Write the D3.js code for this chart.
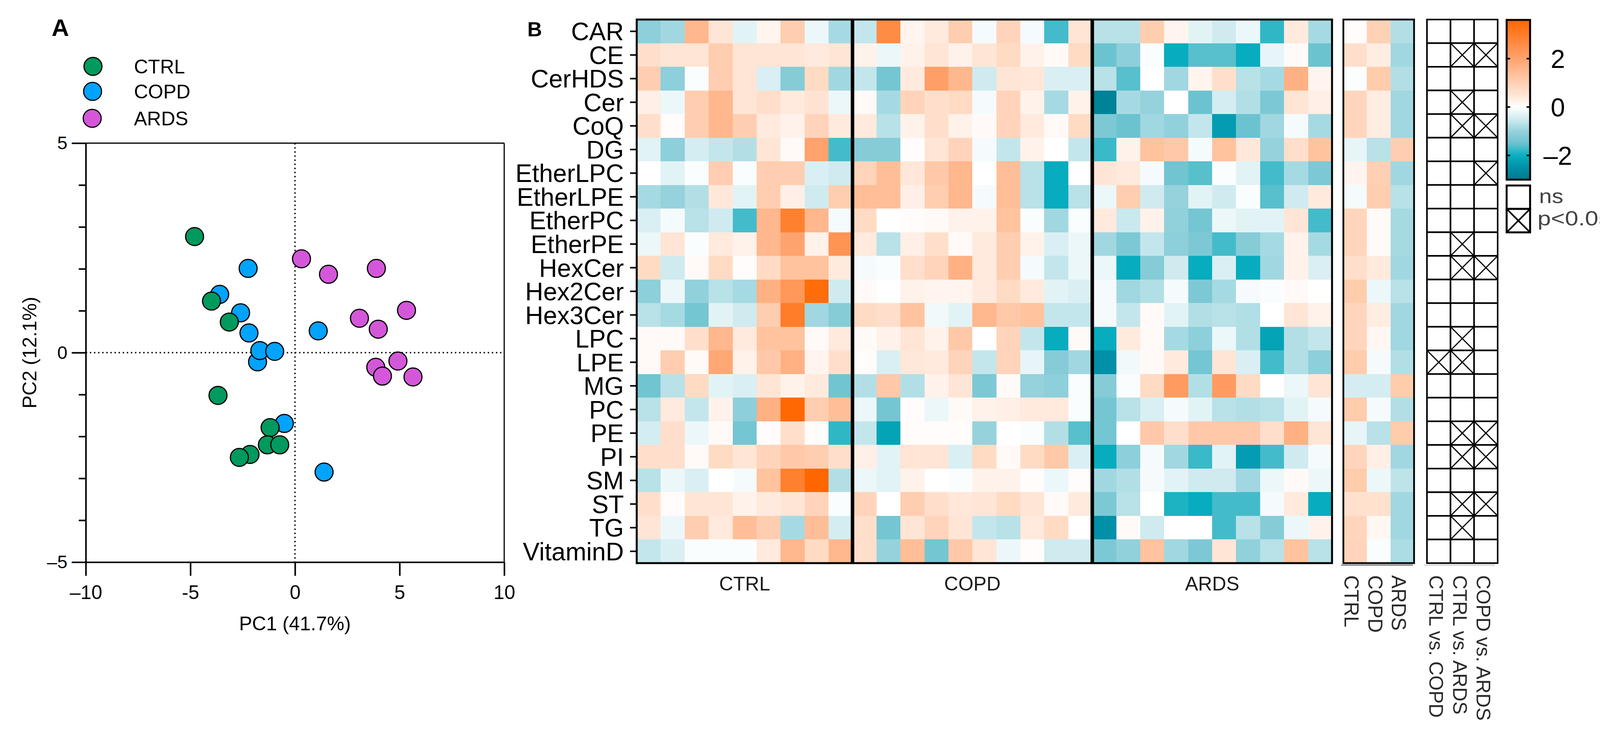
<!DOCTYPE html>
<html>
<head>
<meta charset="utf-8">
<script src="https://cdn.jsdelivr.net/npm/d3@7"></script>
<style>
  body { margin: 0; background: #fff; overflow: hidden; }
  svg { display: block; }
  text { font-family: "Liberation Sans", Arial, sans-serif; }
</style>
</head>
<body>
<svg id="fig" width="4175" height="1877"></svg>
<script>
// ---- data ----
const lipids = ['CAR', 'CE', 'CerHDS', 'Cer', 'CoQ', 'DG', 'EtherLPC', 'EtherLPE', 'EtherPC', 'EtherPE',
  'HexCer', 'Hex2Cer', 'Hex3Cer', 'LPC', 'LPE', 'MG', 'PC', 'PE', 'PI', 'SM', 'ST', 'TG', 'VitaminD'];
const groups = ['CTRL', 'COPD', 'ARDS'];
const comparisons = ['CTRL vs. COPD', 'CTRL vs. ARDS', 'COPD vs. ARDS'];

// z-scores per sample (rows = lipids)
const ctrlZ = [
  [-1.1, -0.9, 1.55, 0.5, -0.3, 0.2, 1.05, -0.2, -0.85],
  [0.65, 0.5, 0.5, 1.05, 0.5, 0.5, 0.5, 0.4, 0.5],
  [1.05, -1.1, -0.05, 1.05, 0.5, -0.4, -1.2, 0.75, -0.9],
  [0.3, -0.2, 1.05, 1.55, 0.5, 0.65, 0.4, 0.55, -0.2],
  [0.65, 0.05, 1.05, 1.55, 1.05, 0.4, 0.25, 0.9, 0.4],
  [-0.3, -1.1, -0.45, -0.6, -0.75, 0.5, 0.1, 2.0, -1.7],
  [0, -0.3, -0.05, 1.05, -0.05, 1.05, 1.05, -0.4, -0.5],
  [-0.85, -1.0, -0.75, 0.45, -0.3, 1.05, 0.3, -0.5, 1.05],
  [-0.4, -0.1, -0.7, -0.5, -1.7, 1.55, 2.9, 1.55, -0.1],
  [-0.2, 0.5, -0.05, 0.4, 0.25, 1.55, 2.0, 0.25, 2.4],
  [0.75, -0.5, 0.1, 0.75, 0.05, 0.75, 1.3, 1.3, 0.4],
  [-1.1, -0.2, -1.05, -0.7, -0.85, 1.7, 2.3, 3.45, -0.5],
  [-0.7, -0.85, -1.4, -0.3, -0.5, 1.05, 3.0, -0.9, -1.2],
  [0.1, 0.1, 0.65, 1.55, 0.4, 1.3, 1.3, 0.1, 0.4],
  [0.1, 1.05, 0.1, 1.9, 0.25, 1.15, 1.7, 0.2, 0.65],
  [-1.45, -0.7, 0.75, -0.3, -0.4, 0.5, 0.25, 0.4, -1.45],
  [-0.7, 0.4, -0.6, 0.25, -1.1, 1.7, 3.55, 1.05, 1.4],
  [-0.45, 0.65, -0.2, 0.1, -1.4, 0.05, 0.65, 0.05, -1.8],
  [0.65, 0.65, 0.1, 0.75, 0.5, 0.9, 1.15, 1.05, 0.65],
  [-0.7, -0.2, -0.4, 0, -0.1, 1.3, 2.9, 3.6, -0.75],
  [0.65, 0.05, 0.5, 0.5, 0.25, 0.4, 0.5, 0.9, -0.05],
  [0.5, -0.2, 1.05, 0.4, 1.4, 1.05, -0.85, 1.4, -0.45],
  [-0.6, -0.4, -0.05, -0.05, -0.05, 0.4, 1.55, 0.75, 1.55]
];
const copdZ = [
  [-0.6, 2.6, 0.2, 0.4, 1.05, -0.1, 0.9, -0.1, -1.7, 0.5],
  [0.25, -0.2, 0.25, 0.5, 0.25, 0.5, 0.75, 0.25, 0.1, 0.75],
  [-0.6, -1.4, 0.4, 2.1, 1.55, -0.5, 0.5, 0.45, -0.4, -0.4],
  [0.1, -0.85, 0.9, 0.65, 0.75, -0.1, 0.9, 0.25, -0.85, 0.25],
  [0.4, -0.7, 0.25, 0.65, 0.25, 0.1, 0.9, 0.4, 0.1, 0.75],
  [-1.2, -1.2, 0.05, 0.5, 0.9, -0.1, -0.6, 0.25, 0, -0.6],
  [0.9, 1.4, 0.45, 1.15, 1.55, 0, 1.4, -0.7, -2.05, 0],
  [1.4, 1.4, 0.3, 1.05, 1.55, -0.1, 1.4, -0.7, -2.05, -0.7],
  [0.75, 0, 0.05, 0.1, 0.25, 0.25, 1.3, -0.05, -0.9, -0.05],
  [0.4, -0.7, 0.3, 0.65, 0.1, 0.4, 1.05, 0.25, -0.4, -0.2],
  [-0.1, -0.05, 0.65, 0.9, 1.7, 0.4, 1.05, -0.1, -0.6, -0.2],
  [0.1, 0, 0.25, 0.2, 0.2, 0.4, 0.75, 0.4, -0.3, -0.4],
  [0.75, 0.65, 1.3, -0.15, -0.3, 1.55, 1.15, 1.3, -0.6, -0.6],
  [0.1, 0.25, 0.5, 0.25, 1.15, 0, 0.9, -0.6, -2.05, 0.1],
  [0.05, -0.4, 0.45, 0.4, 0.9, -0.6, 0.9, -0.25, -1.2, -0.9],
  [-0.75, 1.15, -0.75, 0.25, 0.5, -1.3, 0.1, -1.0, -1.1, -0.05],
  [-0.2, -1.4, 0.05, -0.2, 0.1, 0.25, 0.3, 0.4, 0.4, -0.05],
  [-0.6, -2.2, 0.05, 0.05, 0.05, -1.0, 0, -0.05, -0.75, -1.6],
  [0.3, -0.3, 0.5, 0.5, -0.4, 0.75, 0.1, 0.75, 1.15, -0.4],
  [-0.2, -0.3, 0.25, 0, -0.05, 0.25, 0.25, 0.05, -0.2, 0.05],
  [0.9, 0, 1.05, 0.65, 0.45, 0.5, 0.75, 0.5, 0.1, 0.4],
  [0.65, -1.4, 0.5, 0.9, 0.5, -0.6, -0.7, 0.4, 0.75, 0],
  [0.65, -1.0, 1.4, -1.4, 1.15, 0.5, -0.2, 0.05, -0.5, -0.5]
];
const ardsZ = [
  [-0.7, -0.7, 1.05, 0.2, -0.3, -0.5, -0.2, -1.8, 0.4, -0.85],
  [-1.5, -1.1, -0.05, -2.05, -1.6, -1.6, -2.05, -0.25, 0.1, -1.5],
  [-0.7, -1.6, 0, -0.9, 0.2, 0.65, -0.7, -0.85, 1.7, 0.2],
  [-2.8, -0.85, -1.0, 0, -1.5, -0.45, -0.75, -1.3, 0.5, 0.3],
  [-1.3, -1.5, -0.9, -1.05, -0.6, -2.3, -1.5, -0.9, -0.1, -0.85],
  [-1.75, 0.25, 1.3, 1.15, -0.1, 1.3, 0.45, -1.0, 0.65, 1.3],
  [0.5, 0.4, -0.1, -1.45, -1.6, -0.05, -0.3, -1.7, -0.85, -1.3],
  [-0.2, 1.05, -0.5, -1.0, -0.3, -0.5, -0.05, -1.6, -0.5, 0.4],
  [0.4, -0.55, 0.25, -1.05, -1.4, -0.2, -0.3, -0.3, 0.5, -1.7],
  [-0.9, -1.3, -0.6, -1.1, -1.3, -1.7, -1.2, -0.85, 0.25, -0.85],
  [-0.2, -2.05, -1.2, -0.5, -2.05, -0.4, -2.05, -0.9, 0.25, -0.4],
  [-0.1, -0.9, -0.75, -0.1, -1.3, -0.85, -0.1, -0.05, 0.1, 0],
  [-0.1, -0.6, 0.1, -0.3, -0.75, -0.7, -0.75, 0, 0.5, 0.25],
  [-2.05, 0.4, 0.1, -0.85, -1.1, -0.2, -0.75, -2.2, -0.75, -0.6],
  [-2.5, -0.15, 0.1, 0.4, -1.4, 0.5, -0.4, -1.7, -0.75, -1.1],
  [-1.2, -0.05, 0.75, 2.2, -0.75, 2.2, 0.75, 0, -0.2, 0.5],
  [-1.4, -0.7, -0.4, -0.1, -0.3, -0.7, -0.75, -0.7, -0.3, -0.1],
  [-1.4, 0, 1.15, 0.65, 1.15, 1.15, 1.15, 0.65, 1.7, 0.5],
  [-2.05, -1.1, -0.1, -0.9, -1.75, -0.3, -2.3, -1.7, -0.5, -0.1],
  [-0.9, -0.75, -0.1, -0.3, -0.5, -0.5, -0.9, -0.2, 0.1, -0.2],
  [-1.3, -0.7, 0, -1.9, -2.05, -1.7, -1.7, -0.1, 0.4, -2.05],
  [-2.5, 0.1, -0.5, 0, 0, -1.7, -0.7, -1.2, -0.2, 0.25],
  [-1.3, -1.05, 1.3, -0.9, -1.3, 0.5, -1.05, -0.7, 1.3, -0.7]
];
// group means (CTRL, COPD, ARDS)
const groupMeans = [
  [0.05, 0.95, -0.75], [0.65, 0.35, -0.9], [-0.03, 1.1, -0.75], [0.85, 0.35, -0.9],
  [0.85, 0.35, -0.9], [-0.25, -0.7, 1.05], [0.2, 1.0, -0.9], [-0.1, 1.05, -0.7],
  [0.85, 0.1, -0.85], [0.85, 0.1, -0.85], [0.65, 0.4, -0.9], [1.1, -0.2, -0.7],
  [0.85, 0.35, -0.9], [0.85, 0.15, -0.9], [1.1, -0.1, -0.75], [-0.45, -0.45, 1.1],
  [1.1, -0.1, -0.75], [-0.25, -0.7, 1.1], [0.85, 0.3, -0.9], [1.1, -0.2, -0.65],
  [0.6, 0.6, -0.9], [0.85, 0.15, -0.9], [0.9, -0.05, -0.8]
];
// 1 = p<0.05 for [CTRL vs COPD, CTRL vs ARDS, COPD vs ARDS]
const sigFlags = [
  [0, 0, 0], [0, 1, 1], [0, 0, 0], [0, 1, 0], [0, 1, 1], [0, 0, 0], [0, 0, 1], [0, 0, 0],
  [0, 0, 0], [0, 1, 0], [0, 1, 1], [0, 0, 0], [0, 0, 0], [0, 1, 0], [1, 1, 0], [0, 0, 0],
  [0, 0, 0], [0, 1, 1], [0, 1, 1], [0, 0, 0], [0, 1, 1], [0, 1, 0], [0, 0, 0]
];
const colorTicks = [-2, 0, 2];

// PCA scores
const ctrlPC1 = [-4.80, -3.99, -3.14, -3.68, -1.19, -1.32, -0.73, -2.15, -2.66];
const ctrlPC2 = [2.77, 1.23, 0.73, -1.02, -1.79, -2.20, -2.20, -2.43, -2.50];
const copdPC1 = [-2.24, -3.60, -2.60, -2.20, -1.79, -1.68, -0.97, 1.11, -0.51, 1.39];
const copdPC2 = [2.01, 1.39, 0.95, 0.47, -0.22, 0.05, 0.03, 0.52, -1.69, -2.85];
const ardsPC1 = [0.31, 1.60, 3.89, 5.33, 3.08, 3.98, 4.92, 3.86, 4.18, 5.64];
const ardsPC2 = [2.24, 1.87, 2.01, 1.01, 0.82, 0.56, -0.20, -0.35, -0.56, -0.58];
const xTicks = [-10, -5, 0, 5, 10];
const xTickLabels = ['–10', '-5', '0', '5', '10'];
const yTicks = [-5, 0, 5];
const yTickLabels = ['–5', '0', '5'];

const groupColors = { CTRL: '#00995e', COPD: '#00a3fd', ARDS: '#d457da' };

// ---- setup ----
const svg = d3.select('#fig');
svg.append('rect').attr('width', 4175).attr('height', 1877).attr('fill', '#fff');
const font = '"Liberation Sans", Arial, sans-serif';

const color = d3.scaleLinear()
  .domain([-3, -2.5, -2, -1.5, -1, -0.5, 0, 0.5, 1, 2, 3.6])
  .range(['#007a8e', '#0090a8', '#08afc0', '#6cc3d0', '#95d2dc', '#cfebf0', '#ffffff',
          '#ffe5d5', '#ffd0b3', '#ffa36e', '#ff6600'])
  .clamp(true);

// ================= panel A: PCA =================
const x = d3.scaleLinear().domain([-10, 10]).range([219.6, 1290.8]);
const y = d3.scaleLinear().domain([-5, 5]).range([1439.5, 366.5]);

const gA = svg.append('g');
gA.append('text').attr('x', 132).attr('y', 92).attr('font-size', 62)
  .attr('font-weight', 'bold').text('A');

// frame (top/right)
gA.append('line').attr('x1', x(-10)).attr('x2', x(10)).attr('y1', y(5)).attr('y2', y(5))
  .attr('stroke', '#000').attr('stroke-width', 3);
gA.append('line').attr('x1', x(10)).attr('x2', x(10)).attr('y1', y(5)).attr('y2', y(-5))
  .attr('stroke', '#000').attr('stroke-width', 3);

// zero lines
gA.append('line').attr('x1', x(0)).attr('x2', x(0)).attr('y1', y(5)).attr('y2', y(-5))
  .attr('stroke', '#000').attr('stroke-width', 3.5).attr('stroke-dasharray', '3.5 7');
gA.append('line').attr('x1', x(-10)).attr('x2', x(10)).attr('y1', y(0)).attr('y2', y(0))
  .attr('stroke', '#000').attr('stroke-width', 3.5).attr('stroke-dasharray', '3.5 7');

// axes
const xAxis = gA.append('g').attr('transform', `translate(0,${y(-5)})`)
  .call(d3.axisBottom(x).tickValues(xTicks).tickSize(35).tickSizeOuter(0).tickPadding(24)
    .tickFormat((d, i) => xTickLabels[i]));
const yAxis = gA.append('g').attr('transform', `translate(${x(-10)},0)`)
  .call(d3.axisLeft(y).tickValues(d3.range(-5, 6)).tickSize(18).tickSizeOuter(0).tickPadding(10)
    .tickFormat(d => yTicks.includes(d) ? yTickLabels[yTicks.indexOf(d)] : ''));
yAxis.selectAll('.tick line').filter(d => yTicks.includes(d)).attr('x2', -36);
yAxis.selectAll('.tick text').filter(d => yTicks.includes(d)).attr('x', -47);
[xAxis, yAxis].forEach(a => {
  a.select('.domain').attr('stroke-width', 4);
  a.selectAll('.tick line').attr('stroke-width', 4);
  a.selectAll('text').attr('font-family', font).attr('fill', '#000');
});
xAxis.selectAll('text').attr('font-size', 50);
yAxis.selectAll('text').attr('font-size', 47);

gA.append('text').attr('x', 755).attr('y', 1614).attr('text-anchor', 'middle')
  .attr('font-size', 50).text('PC1 (41.7%)');
gA.append('text').attr('transform', `translate(93,${y(0)}) rotate(-90)`)
  .attr('text-anchor', 'middle').attr('font-size', 50).text('PC2 (12.1%)');

// points
const pts = [
  { g: 'COPD', pc1: copdPC1, pc2: copdPC2 },
  { g: 'CTRL', pc1: ctrlPC1, pc2: ctrlPC2 },
  { g: 'ARDS', pc1: ardsPC1, pc2: ardsPC2 }
];
pts.forEach(s => {
  gA.append('g').selectAll('circle')
    .data(s.pc1.map((v, i) => [v, s.pc2[i]]))
    .join('circle')
    .attr('cx', d => x(d[0])).attr('cy', d => y(d[1])).attr('r', 23)
    .attr('fill', groupColors[s.g]).attr('stroke', '#000').attr('stroke-width', 3);
});

// legend
const legendY = [170, 234, 303];
groups.forEach((g, i) => {
  gA.append('circle').attr('cx', 238 - i).attr('cy', legendY[i]).attr('r', 23)
    .attr('fill', groupColors[g]).attr('stroke', '#000').attr('stroke-width', 3);
  gA.append('text').attr('x', 343).attr('y', legendY[i] + 18).attr('font-size', 50).text(g);
});

// ================= panel B: heatmap =================
const gB = svg.append('g');
gB.append('text').attr('x', 1350).attr('y', 93).attr('font-size', 52)
  .attr('font-weight', 'bold').text('B');

const groupZ = [ctrlZ, copdZ, ardsZ];
const samples = [];
groupZ.forEach((m, gi) => m[0].forEach((_, i) => samples.push({ g: gi, i, id: groups[gi] + (i + 1) })));

const hx = d3.scaleBand().domain(samples.map(s => s.id)).range([1630, 3410]);
const hy = d3.scaleBand().domain(lipids).range([50, 1442]);

const cells = [];
lipids.forEach((lip, r) => samples.forEach(s => cells.push({ lip, s, v: groupZ[s.g][r][s.i] })));

gB.append('g').attr('shape-rendering', 'crispEdges').selectAll('rect')
  .data(cells).join('rect')
  .attr('x', d => hx(d.s.id)).attr('y', d => hy(d.lip))
  .attr('width', hx.bandwidth() + 0.6).attr('height', hy.bandwidth() + 0.6)
  .attr('fill', d => color(d.v));

// group separators + frame
[9, 19].forEach(k => {
  const xx = hx(samples[k].id);
  gB.append('line').attr('x1', xx).attr('x2', xx).attr('y1', 50).attr('y2', 1442)
    .attr('stroke', '#000').attr('stroke-width', 9);
});
gB.append('rect').attr('x', 1630).attr('y', 50).attr('width', 1780).attr('height', 1392)
  .attr('fill', 'none').attr('stroke', '#000').attr('stroke-width', 5);

// row axis
const rowAxis = gB.append('g').attr('transform', 'translate(1630,0)')
  .call(d3.axisLeft(hy).tickSize(17).tickSizeOuter(0).tickPadding(16));
rowAxis.select('.domain').remove();
rowAxis.selectAll('.tick line').attr('stroke-width', 4);
rowAxis.selectAll('text').attr('font-size', 64).attr('font-family', font).attr('fill', '#000')
  .attr('dy', '0.36em');

// group labels
groups.forEach((g, gi) => {
  const ids = samples.filter(s => s.g === gi).map(s => s.id);
  const cx = (hx(ids[0]) + hx(ids[ids.length - 1]) + hx.bandwidth()) / 2;
  gB.append('text').attr('x', cx).attr('y', 1512).attr('text-anchor', 'middle')
    .attr('font-size', 50).attr('fill', '#1a1a1a').text(g);
});

// ---- group mean columns ----
const mx = d3.scaleBand().domain(groups).range([3439, 3620]);
const meanCells = [];
lipids.forEach((lip, r) => groups.forEach((g, gi) => meanCells.push({ lip, g, v: groupMeans[r][gi] })));
gB.append('g').attr('shape-rendering', 'crispEdges').selectAll('rect')
  .data(meanCells).join('rect')
  .attr('x', d => mx(d.g)).attr('y', d => hy(d.lip))
  .attr('width', mx.bandwidth() + 0.6).attr('height', hy.bandwidth() + 0.6)
  .attr('fill', d => color(d.v));
gB.append('rect').attr('x', 3439).attr('y', 50).attr('width', 181).attr('height', 1392)
  .attr('fill', 'none').attr('stroke', '#000').attr('stroke-width', 4.5);
gB.append('line').attr('x1', 3433).attr('x2', 3617).attr('y1', 1447).attr('y2', 1447)
  .attr('stroke', '#444').attr('stroke-width', 2);
groups.forEach(g => {
  gB.append('text')
    .attr('transform', `translate(${mx(g) + mx.bandwidth() / 2 - 27},1473) rotate(90)`)
    .attr('font-size', 51).attr('fill', '#2a2a2a').text(g);
});

// ---- significance grid ----
const sx = d3.scaleBand().domain(comparisons).range([3653, 3834]);
const sigCells = [];
lipids.forEach((lip, r) => comparisons.forEach((c, ci) => sigCells.push({ lip, c, s: sigFlags[r][ci] })));
const sg = gB.append('g');
sg.selectAll('rect').data(sigCells).join('rect')
  .attr('x', d => sx(d.c)).attr('y', d => hy(d.lip))
  .attr('width', sx.bandwidth()).attr('height', hy.bandwidth())
  .attr('fill', '#fff').attr('stroke', '#000').attr('stroke-width', 4);
const crosses = sigCells.filter(d => d.s === 1);
sg.selectAll('path.x').data(crosses).join('path').attr('class', 'x')
  .attr('d', d => {
    const x0 = sx(d.c), y0 = hy(d.lip), w = sx.bandwidth(), h = hy.bandwidth();
    return `M${x0},${y0}L${x0 + w},${y0 + h}M${x0 + w},${y0}L${x0},${y0 + h}`;
  })
  .attr('stroke', '#000').attr('stroke-width', 3).attr('fill', 'none');
gB.append('line').attr('x1', 3646).attr('x2', 3827).attr('y1', 1447).attr('y2', 1447)
  .attr('stroke', '#bbb').attr('stroke-width', 2);
comparisons.forEach(c => {
  gB.append('text')
    .attr('transform', `translate(${sx(c) + sx.bandwidth() / 2 - 24},1473) rotate(90)`)
    .attr('font-size', 50).attr('fill', '#2a2a2a').text(c);
});

// ---- colour bar ----
const cb = d3.scaleLinear().domain([-3, 3.6]).range([460, 51]);
const defs = svg.append('defs');
const grad = defs.append('linearGradient').attr('id', 'cbar')
  .attr('x1', 0).attr('y1', 1).attr('x2', 0).attr('y2', 0);
d3.range(0, 1.0001, 0.02).forEach(t => {
  const v = -3 + t * 6.6;
  grad.append('stop').attr('offset', t).attr('stop-color', color(v));
});
gB.append('rect').attr('x', 3857).attr('y', 51).attr('width', 60).attr('height', 409)
  .attr('fill', 'url(#cbar)').attr('stroke', '#000').attr('stroke-width', 5);
colorTicks.forEach(t => {
  gB.append('line').attr('x1', 3857).attr('x2', 3866).attr('y1', cb(t)).attr('y2', cb(t))
    .attr('stroke', '#000').attr('stroke-width', 4);
  gB.append('line').attr('x1', 3908).attr('x2', 3917).attr('y1', cb(t)).attr('y2', cb(t))
    .attr('stroke', '#000').attr('stroke-width', 4);
  gB.append('text').attr('x', 3988).attr('y', cb(t) + 24).attr('text-anchor', 'middle')
    .attr('font-size', 66).text(t < 0 ? '–' + Math.abs(t) : t);
});

// ns / p<0.05 key
gB.append('rect').attr('x', 3857).attr('y', 475).attr('width', 60).attr('height', 60)
  .attr('fill', '#fff').attr('stroke', '#000').attr('stroke-width', 5);
gB.append('rect').attr('x', 3857).attr('y', 535).attr('width', 60).attr('height', 60)
  .attr('fill', '#fff').attr('stroke', '#000').attr('stroke-width', 5);
gB.append('path').attr('d', 'M3857,535L3917,595M3917,535L3857,595')
  .attr('stroke', '#000').attr('stroke-width', 4);
gB.append('text').attr('x', 3940).attr('y', 520).attr('font-size', 52)
  .attr('textLength', 62).attr('lengthAdjust', 'spacingAndGlyphs')
  .attr('fill', '#444').text('ns');
gB.append('text').attr('x', 3936).attr('y', 577).attr('font-size', 52)
  .attr('textLength', 190).attr('lengthAdjust', 'spacingAndGlyphs')
  .attr('fill', '#444').text('p<0.05');
</script>
</body>
</html>
